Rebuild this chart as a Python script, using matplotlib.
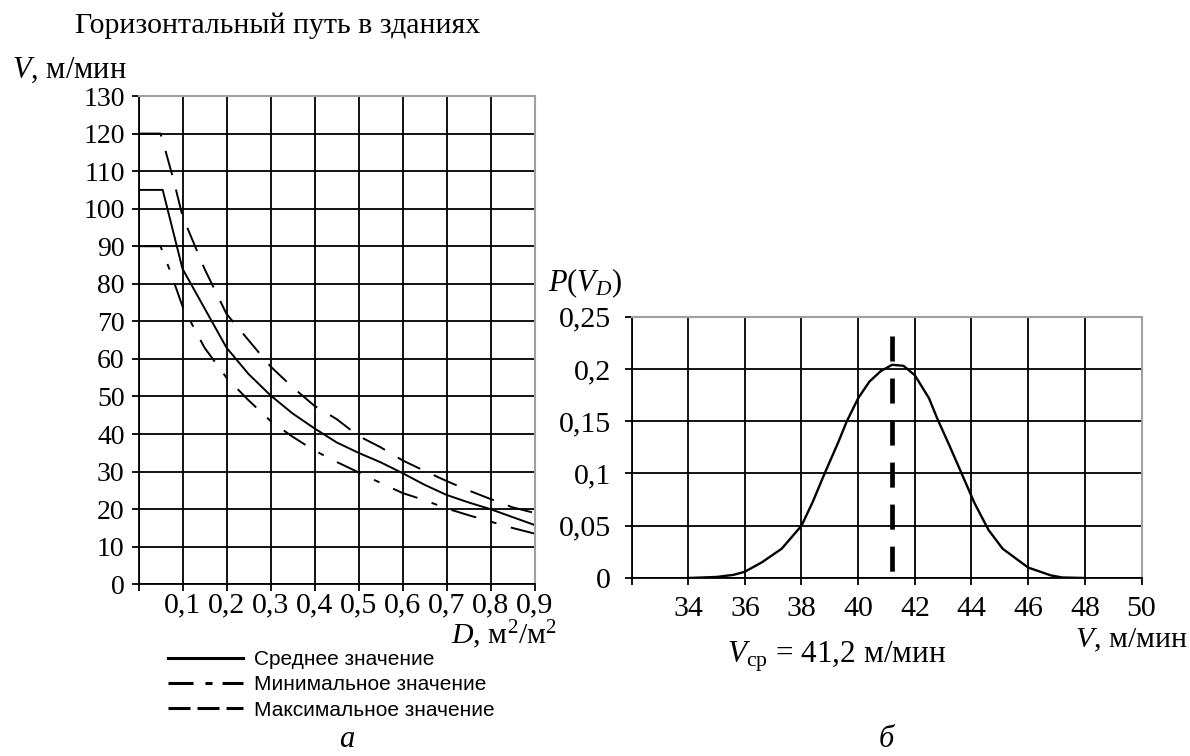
import matplotlib
matplotlib.use("Agg")
import matplotlib.pyplot as plt
from matplotlib.lines import Line2D

plt.rcParams['font.family'] = ['Liberation Serif', 'DejaVu Serif']
plt.rcParams['mathtext.fontset'] = 'custom'
plt.rcParams['mathtext.rm'] = 'Liberation Serif'
plt.rcParams['mathtext.it'] = 'Liberation Serif:italic'

# --- panel a: speed vs density ---
d_mean = [0, 0.055, 0.1, 0.2, 0.25, 0.3, 0.35, 0.4, 0.45, 0.5, 0.55, 0.6, 0.65, 0.7, 0.75, 0.8, 0.85, 0.9]
v_mean = [105, 105, 84, 63, 56, 50.3, 45.5, 41.5, 37.8, 35, 32.5, 29.6, 26.5, 23.8, 21.8, 20, 17.9, 15.8]

d_min = [0, 0.05, 0.07, 0.1, 0.15, 0.2, 0.25, 0.3, 0.35, 0.4, 0.45, 0.5, 0.55, 0.6, 0.65, 0.7, 0.75, 0.8, 0.85, 0.9]
v_min = [90, 90, 84, 74, 63, 55, 49, 43.5, 39.3, 35.6, 32.6, 29.8, 27, 24.3, 22.4, 20.2, 18.4, 16.7, 15, 13.5]

d_max = [0, 0.05, 0.06, 0.08, 0.1, 0.15, 0.2, 0.25, 0.3, 0.35, 0.4, 0.45, 0.5, 0.55, 0.6, 0.65, 0.7, 0.75, 0.8, 0.85, 0.9]
v_max = [120, 120, 116, 107.5, 98, 84, 72, 65, 58, 52.5, 47.5, 44, 39.5, 36.5, 33, 30.2, 27.5, 25, 22.7, 20.5, 19]

a_xticks = [0, 0.1, 0.2, 0.3, 0.4, 0.5, 0.6, 0.7, 0.8, 0.9]
a_xlabels = ['', '0,1', '0,2', '0,3', '0,4', '0,5', '0,6', '0,7', '0,8', '0,9']
a_yticks = list(range(0, 131, 10))

legend_labels = ['Среднее значение', 'Минимальное значение', 'Максимальное значение']

# --- panel b: distribution of speed ---
v_dist = [34, 35, 35.6, 36, 36.6, 37.3, 38, 38.4, 38.8, 39.3, 39.6, 40, 40.4, 40.8, 41.2,
          41.6, 42, 42.5, 42.8, 43.2, 43.7, 44.1, 44.6, 45.1, 46, 46.8, 47.2, 48]
p_dist = [0, 0.001, 0.003, 0.006, 0.015, 0.028, 0.05, 0.073, 0.099, 0.13, 0.15, 0.172, 0.188, 0.198, 0.204,
          0.203, 0.194, 0.172, 0.152, 0.128, 0.097, 0.072, 0.046, 0.028, 0.010, 0.0025, 0.0005, 0]
v_avg = 41.2
p_avg_top = 0.2315

b_xticks = [32, 34, 36, 38, 40, 42, 44, 46, 48, 50]
b_xlabels = ['', '34', '36', '38', '40', '42', '44', '46', '48', '50']
b_yticks = [0, 0.05, 0.1, 0.15, 0.2, 0.25]
b_ylabels = ['0', '0,05', '0,1', '0,15', '0,2', '0,25']

W, H = 1190, 756
fig = plt.figure(figsize=(W / 100, H / 100), dpi=100)


def style_axes(ax):
    ax.set_axisbelow(True)
    ax.grid(True, color='black', linewidth=1.3)
    for s in ['left', 'bottom']:
        ax.spines[s].set_color('black')
        ax.spines[s].set_linewidth(1.3)
    for s in ['top', 'right']:
        ax.spines[s].set_color('#a0a0a0')
        ax.spines[s].set_linewidth(1.5)
    ax.tick_params(direction='out', length=5, width=1.3, color='black')


# panel a
ax1 = fig.add_axes([138.5 / W, 1 - 584.3 / H, 396 / W, 488.3 / H])
ax1.plot(d_mean, v_mean, color='black', linewidth=1.4, linestyle='-')
ax1.plot(d_min, v_min, color='black', linewidth=1.4, linestyle=(0, (13.4, 7.7, 3.1, 7.7)))
ax1.plot(d_max, v_max, color='black', linewidth=1.4, linestyle=(0, (12.9, 7.7)))
ax1.set_xlim(0, 0.9)
ax1.set_ylim(0, 130)
ax1.set_xticks(a_xticks)
ax1.set_xticklabels(a_xlabels, fontsize=21.5)
ax1.set_yticks(a_yticks)
ax1.set_yticklabels([str(t) for t in a_yticks], fontsize=20)
style_axes(ax1)
ax1.tick_params(axis='x', pad=0.5)
ax1.tick_params(axis='y', pad=5)

# legend (sans serif, below panel a)
handles = [
    Line2D([], [], color='black', linewidth=2.2, linestyle='-'),
    Line2D([], [], color='black', linewidth=2.2, linestyle=(0, (8.2, 3.9, 2.3, 3.3))),
    Line2D([], [], color='black', linewidth=2.2, linestyle=(0, (7.2, 2.3))),
]
fig.legend(handles, legend_labels, loc='upper left', bbox_to_anchor=(168 / W, 1 - 650 / H),
           frameon=False, borderpad=0, borderaxespad=0, handlelength=3.6, handletextpad=0.55,
           labelspacing=0.3, prop={'family': 'Liberation Sans', 'size': 15})

# panel b
ax2 = fig.add_axes([631.5 / W, 1 - 578 / H, 510 / W, 261.3 / H])
ax2.plot(v_dist, p_dist, color='black', linewidth=1.7)
ax2.plot([v_avg, v_avg], [p_avg_top, 0], color='black', linewidth=3.4, linestyle=(0, (5.3, 3.6)))
ax2.set_xlim(32, 50)
ax2.set_ylim(0, 0.25)
ax2.set_xticks(b_xticks)
ax2.set_xticklabels(b_xlabels, fontsize=21.5)
ax2.set_yticks(b_yticks)
ax2.set_yticklabels(b_ylabels, fontsize=21.5)
style_axes(ax2)
ax2.tick_params(axis='x', pad=8)
ax2.tick_params(axis='y', pad=10)

# texts
fig.text(75 / W, 1 - 33 / H, 'Горизонтальный путь в зданиях', fontsize=21.5, ha='left', va='baseline')
fig.text(12 / W, 1 - 78 / H, '$V$, м/мин', fontsize=22, ha='left', va='baseline')
fig.text(557 / W, 1 - 644 / H, '$D$, м$^2$/м$^2$', fontsize=21.5, ha='right', va='baseline')
fig.text(548 / W, 1 - 291 / H, '$P$($V_D$)', fontsize=22, ha='left', va='baseline')
fig.text(1075 / W, 1 - 647 / H, '$V$, м/мин', fontsize=21.5, ha='left', va='baseline')
fig.text(727 / W, 1 - 663 / H, '$V_{\\mathrm{ср}}$ = 41,2 м/мин', fontsize=22.5, ha='left', va='baseline')
fig.text(347 / W, 1 - 747 / H, 'а', fontsize=22, style='italic', ha='center', va='baseline')
fig.text(886 / W, 1 - 747 / H, 'б', fontsize=22, style='italic', ha='center', va='baseline')

fig.savefig('out.png', dpi=100)
